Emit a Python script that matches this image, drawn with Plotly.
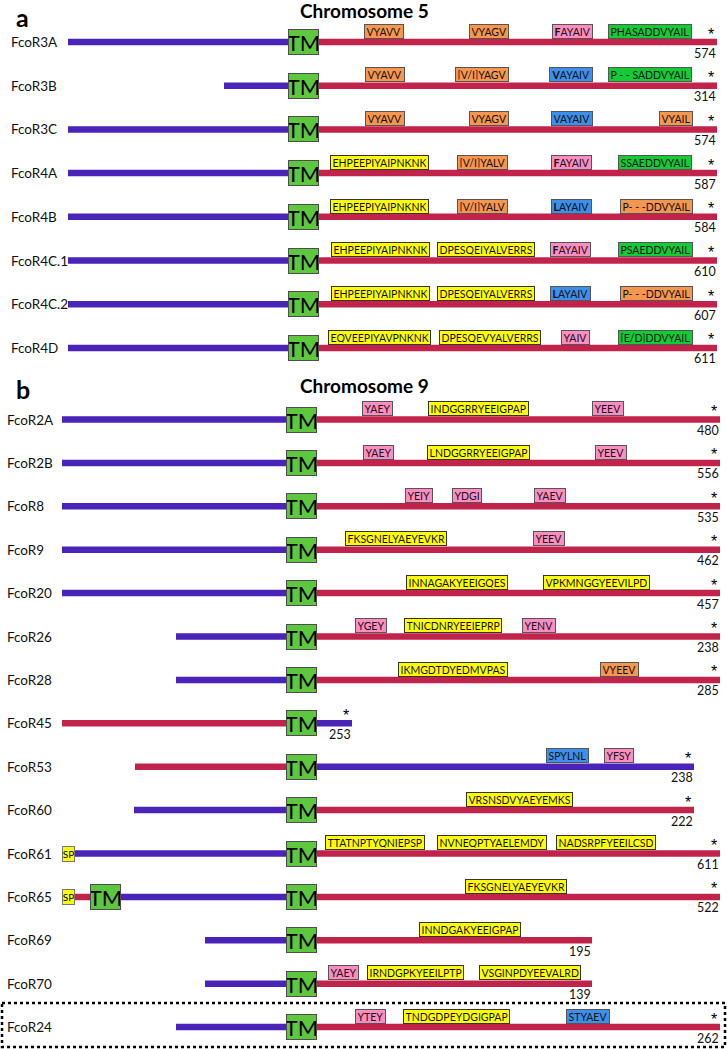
import plotly.graph_objects as go

# ---------------- data ----------------
# Panel a : Chromosome 5
a_names = ["FcoR3A", "FcoR3B", "FcoR3C", "FcoR4A", "FcoR4B", "FcoR4C.1", "FcoR4C.2", "FcoR4D"]
a_start = [68, 224, 68, 68, 68, 68, 68, 68]
a_end = [717, 717, 717, 717, 717, 717, 717, 717]
a_length = [574, 314, 574, 587, 584, 610, 607, 611]
a_stop = [True] * 8
a_tm = [[303.7]] * 8
a_segcol = [["blue", "red"]] * 8
a_sp = [False] * 8
a_motifs = [
    [("VYAVV", 384, "orange"), ("VYAGV", 489, "orange"), ("<b>F</b>AYAIV", 572, "pink"), ("PHASADDVYAIL", 650, "green")],
    [("VYAVV", 385, "orange"), ("[V/I]YAGV", 481.5, "orange"), ("<b>V</b>AYAIV", 571, "blue"), ("P - - SADDVYAIL", 650, "green")],
    [("VYAVV", 385, "orange"), ("VYAGV", 489, "orange"), ("VAYAIV", 571.5, "blue"), ("VYAIL", 675.5, "orange")],
    [("EHPEEPIYAIPNKNK", 379, "yellow"), ("[V/I]YALV", 482, "orange"), ("<b>F</b>AYAIV", 571, "pink"), ("SSAEDDVYAIL", 655, "green")],
    [("EHPEEPIYAIPNKNK", 379, "yellow"), ("[V/I]YALV", 482, "orange"), ("<b>L</b>AYAIV", 571, "blue"), ("P- - -DDVYAIL", 656, "orange")],
    [("EHPEEPIYAIPNKNK", 380, "yellow"), ("DPESQEIYALVERRS", 486, "yellow"), ("<b>F</b>AYAIV", 570, "pink"), ("PSAEDDVYAIL", 655, "green")],
    [("EHPEEPIYAIPNKNK", 380, "yellow"), ("DPESQEIYALVERRS", 486, "yellow"), ("<b>L</b>AYAIV", 570, "blue"), ("P- - -DDVYAIL", 656, "orange")],
    [("EQVEEPIYAVPNKNK", 379.5, "yellow"), ("DPESQEVYALVERRS", 490, "yellow"), ("YAIV", 575.5, "pink"), ("[E/D]DDVYAIL", 655, "green")],
]

# Panel b : Chromosome 9
b_names = ["FcoR2A", "FcoR2B", "FcoR8", "FcoR9", "FcoR20", "FcoR26", "FcoR28", "FcoR45",
           "FcoR53", "FcoR60", "FcoR61", "FcoR65", "FcoR69", "FcoR70", "FcoR24"]
b_start = [62, 62, 62, 62, 62, 176, 176, 62, 135, 134, 68, 68, 205, 205, 176]
b_end = [720, 720, 720, 720, 720, 720, 720, 352, 694, 694, 720, 720, 592, 592, 720]
b_length = [480, 556, 535, 462, 457, 238, 285, 253, 238, 222, 611, 522, 195, 139, 262]
b_stop = [True] * 12 + [False, False, True]
b_tm = [[301]] * 11 + [[105.7, 301]] + [[301]] * 3
b_segcol = ([["blue", "red"]] * 7 + [["red", "blue"], ["red", "blue"], ["blue", "red"], ["blue", "red"],
            ["red", "blue", "red"]] + [["blue", "red"]] * 3)
b_sp = [False] * 10 + [True, True] + [False] * 3
b_motifs = [
    [("YAEY", 377.5, "pink"), ("INDGGRRYEEIGPAP", 478, "yellow"), ("YEEV", 608, "pink")],
    [("YAEY", 378, "pink"), ("LNDGGRRYEEIGPAP", 478, "yellow"), ("YEEV", 611, "pink")],
    [("YEIY", 419, "pink"), ("YDGI", 467, "pink"), ("YAEV", 550, "pink")],
    [("FKSGNELYAEYEVKR", 396, "yellow"), ("YEEV", 549.3, "pink")],
    [("INNAGAKYEEIGQES", 457, "yellow"), ("VPKMNGGYEEVILPD", 596, "yellow")],
    [("YGEY", 370.7, "pink"), ("TNICDNRYEEIEPRP", 453, "yellow"), ("YENV", 538.5, "pink")],
    [("IKMGDTDYEDMVPAS", 452.7, "yellow"), ("VYEEV", 619.3, "orange")],
    [],
    [("SPYLNL", 567.3, "blue"), ("YFSY", 618.5, "pink")],
    [("VRSNSDVYAEYEMKS", 519, "yellow")],
    [("TTATNPTYQNIEPSP", 375, "yellow"), ("NVNEQPTYAELEMDY", 491.5, "yellow"), ("NADSRPFYEEILCSD", 606, "yellow")],
    [("FKSGNELYAEYEVKR", 516, "yellow")],
    [("INNDGAKYEEIGPAP", 470, "yellow")],
    [("YAEY", 343.7, "pink"), ("IRNDGPKYEEILPTP", 415, "yellow"), ("VSGINPDYEEVALRD", 529.7, "yellow")],
    [("YTEY", 370.7, "pink"), ("TNDGDPEYDGIGPAP", 456.3, "yellow"), ("STYAEV", 587.7, "blue")],
]
highlighted = "FcoR24"

# ---------------- styles ----------------
W, H = 727, 1049
FONT = "Lato, 'Open Sans', sans-serif"
LINE_COL = {"blue": "#4A23B9", "red": "#C1234B"}
BOX_COL = {"orange": "#F7964F", "pink": "#FF8DC2", "green": "#12CC36",
           "blue": "#3C8FEA", "yellow": "#FFFF00"}
TM_COL = "#5DC83E"
LW = 6.5

panels = [
    dict(label="a", title="Chromosome 5", y0=42, step=43.7, title_y=10, label_y=0, names=a_names,
         start=a_start, end=a_end, length=a_length, stop=a_stop, tm=a_tm, segcol=a_segcol, sp=a_sp,
         motifs=a_motifs, name_x=9),
    dict(label="b", title="Chromosome 9", y0=419.5, step=43.4, title_y=385, label_y=372, names=b_names,
         start=b_start, end=b_end, length=b_length, stop=b_stop, tm=b_tm, segcol=b_segcol, sp=b_sp,
         motifs=b_motifs, name_x=5),
]

fig = go.Figure()
ann = []
shapes = []

for p in panels:
    ann.append(dict(x=14, y=p["label_y"], text="<b>%s</b>" % p["label"], showarrow=False,
                    xanchor="left", yanchor="top", font=dict(family=FONT, size=25, color="black")))
    ann.append(dict(x=364, y=p["title_y"], text="<b>%s</b>" % p["title"], showarrow=False,
                    xanchor="center", yanchor="middle", font=dict(family=FONT, size=19, color="black")))
    for i, name in enumerate(p["names"]):
        y = p["y0"] + i * p["step"]
        bounds = [p["start"][i]] + p["tm"][i] + [p["end"][i]]
        for k, col in enumerate(p["segcol"][i]):
            fig.add_trace(go.Scatter(x=[bounds[k], bounds[k + 1]], y=[y, y], mode="lines",
                                     line=dict(color=LINE_COL[col], width=LW), hoverinfo="skip",
                                     showlegend=False))
        # name
        ann.append(dict(x=p["name_x"], y=y, text=name, showarrow=False, xanchor="left", yanchor="middle",
                        font=dict(family=FONT, size=13.5, color="#111")))
        # TM boxes
        for k, tx in enumerate(p["tm"][i]):
            ann.append(dict(x=tx, y=y, text="TM", showarrow=False, xanchor="center", yanchor="middle",
                            width=29, height=24, borderpad=0, borderwidth=1, bordercolor="#4d4d4d",
                            bgcolor=TM_COL, font=dict(family=FONT, size=22, color="black")))
        # signal peptide
        if p["sp"][i]:
            ann.append(dict(x=p["start"][i], y=y, text="SP", showarrow=False, xanchor="center",
                            yanchor="middle", width=11, height=14, borderpad=0, borderwidth=1,
                            bordercolor="#777", bgcolor=BOX_COL["yellow"],
                            font=dict(family=FONT, size=10, color="black")))
        # motifs
        for (txt, mx, kind) in p["motifs"][i]:
            ann.append(dict(x=mx, y=y - LW / 2, text=txt, showarrow=False, xanchor="center",
                            yanchor="bottom", height=10, borderpad=1.5, borderwidth=1,
                            bordercolor="#555" if kind != "yellow" else "#333",
                            bgcolor=BOX_COL[kind], font=dict(family=FONT, size=10.5, color="#111")))
        # stop codon and length
        if p["stop"][i]:
            ann.append(dict(x=p["end"][i] - 1, y=y - 8, text="*", showarrow=False, xanchor="right",
                            yanchor="middle", font=dict(family="Liberation Sans, sans-serif", size=16,
                                                        color="black")))
        ann.append(dict(x=p["end"][i] + 1, y=y + 11, text=str(p["length"][i]), showarrow=False,
                        xanchor="right", yanchor="middle", font=dict(family=FONT, size=12.5, color="#111")))
        if name == highlighted and p["label"] == "b":
            shapes.append(dict(type="rect", xref="x", yref="y", x0=2, x1=725, y0=y - 24, y1=y + 20,
                               line=dict(color="black", width=2.5, dash="dot")))

fig.update_layout(
    width=W, height=H, autosize=False,
    margin=dict(l=0, r=0, t=0, b=0),
    paper_bgcolor="white", plot_bgcolor="white",
    xaxis=dict(range=[0, W], visible=False, fixedrange=True),
    yaxis=dict(range=[H, 0], visible=False, fixedrange=True),
    annotations=ann, shapes=shapes, showlegend=False,
)
# remove the default page margin so the figure fills the window exactly
fig.write_html("out.html", config={"displayModeBar": False},
               post_script="document.body.style.margin='0px';")
